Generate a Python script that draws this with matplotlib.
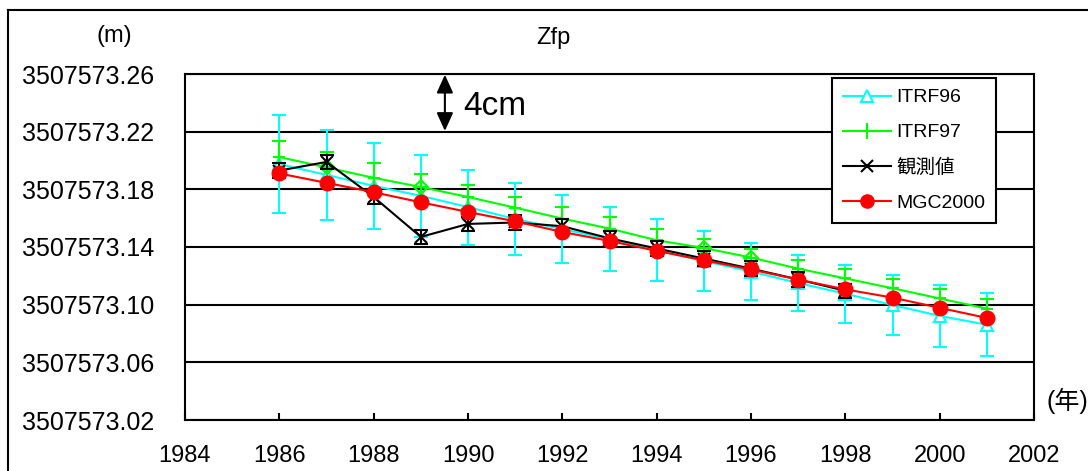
import matplotlib
matplotlib.use("Agg")
import matplotlib.pyplot as plt
from matplotlib.lines import Line2D
from matplotlib.ticker import FixedLocator, FormatStrFormatter

plt.rcParams['font.family'] = ['Liberation Sans', 'Noto Sans CJK JP', 'DejaVu Sans']

BASE = 3507573.0
years = list(range(1986, 2002))
years_obs = list(range(1986, 1999))

itrf96 = [0.1975, 0.190, 0.1824, 0.1755, 0.1677, 0.1594, 0.1524, 0.1455,
          0.1379, 0.1303, 0.1230, 0.1150, 0.1076, 0.0998, 0.0922, 0.0861]
itrf96_err = [0.034, 0.0315, 0.0297, 0.0286, 0.026, 0.025, 0.0234, 0.022,
              0.0214, 0.0208, 0.0199, 0.0193, 0.020, 0.021, 0.0215, 0.022]

itrf97 = [0.2024, 0.1952, 0.1880, 0.1816, 0.1747, 0.1673, 0.1597, 0.1528,
          0.1447, 0.1393, 0.1327, 0.1250, 0.1182, 0.1114, 0.1043, 0.0973]
itrf97_err = [0.011, 0.0105, 0.0102, 0.0088, 0.0086, 0.0074, 0.008, 0.008,
              0.0076, 0.006, 0.0058, 0.0062, 0.0062, 0.0062, 0.0064, 0.0065]

observed = [0.193, 0.199, 0.1747, 0.147, 0.156, 0.157, 0.1544, 0.146,
            0.139, 0.132, 0.125, 0.1175, 0.1096]
observed_err = [0.005] * len(observed)

mgc2000 = [0.191, 0.1845, 0.178, 0.171, 0.1643, 0.1578, 0.1504, 0.1442,
           0.1373, 0.1308, 0.1244, 0.1174, 0.1106, 0.1049, 0.0978, 0.0908]

diamond_idx = [1, 3, 9, 10]

yticks = [0.02, 0.06, 0.10, 0.14, 0.18, 0.22, 0.26]
xticks = list(range(1984, 2003, 2))

labels = ['ITRF96', 'ITRF97', '観測値', 'MGC2000']
CYAN, GREEN, BLACK, RED = '#00FFFF', '#00FF00', '#000000', '#FF0000'

def full(v):
    return [BASE + x for x in v]

fig = plt.figure(figsize=(10.88, 4.71), dpi=100)
ax = fig.add_axes([185/1088, 1-420/471, (1034-185)/1088, (420-74)/471])

ax.set_xlim(1984, 2002)
ax.set_ylim(BASE + 0.02, BASE + 0.26)

# gridlines
for t in yticks:
    ax.axhline(BASE + t, color='black', lw=1.5, zorder=1)

ek = dict(elinewidth=1.5, capthick=1.5, capsize=5)
ax.errorbar(years, full(itrf96), yerr=itrf96_err, color=CYAN, lw=1.5,
            marker='^', ms=8, mfc='white', mec=CYAN, mew=1.5, zorder=3, **ek)
ax.errorbar(years, full(itrf97), yerr=itrf97_err, color=GREEN, lw=1.5,
            marker='+', ms=9, mew=1.5, zorder=4, **ek)
ax.plot([years[i] for i in diamond_idx], [BASE + itrf97[i] for i in diamond_idx],
        ls='none', marker='D', ms=7, mfc='none', mec=GREEN, mew=1.5, zorder=4)
ax.errorbar(years_obs, full(observed), yerr=observed_err, color=BLACK, lw=1.5,
            marker='x', ms=8, mew=1.5, zorder=5, **ek)
ax.plot(years, full(mgc2000), color=RED, lw=1.5, marker='o', ms=10.5,
        mfc=RED, mec=RED, zorder=6)

ax.yaxis.set_major_locator(FixedLocator([BASE + t for t in yticks]))
ax.yaxis.set_major_formatter(FormatStrFormatter('%.2f'))
ax.xaxis.set_major_locator(FixedLocator(xticks))
ax.tick_params(axis='y', length=0, pad=22, labelsize=18)
ax.tick_params(axis='x', direction='in', length=5, width=1.5, pad=17.8, labelsize=17,
               top=False)
for s in ax.spines.values():
    s.set_linewidth(1.5)
    s.set_color('black')

# 4cm scale arrow
ax.annotate('', xy=(1989.51, BASE + 0.2595), xytext=(1989.51, BASE + 0.2205),
            arrowprops=dict(arrowstyle='<|-|>,head_width=0.5,head_length=1.1',
                            color='black', lw=1.5, shrinkA=0, shrinkB=0), zorder=7)
ax.text(1989.9, BASE + 0.2375, '4cm', fontsize=24, va='center', ha='left')

handles = [
    Line2D([], [], color=CYAN, lw=1.5, marker='^', ms=8, mfc='white', mec=CYAN, mew=1.5),
    Line2D([], [], color=GREEN, lw=1.5, marker='|', ms=12, mew=1.5),
    Line2D([], [], color=BLACK, lw=1.5, marker='x', ms=9, mew=1.5),
    Line2D([], [], color=RED, lw=1.5, marker='o', ms=9.5, mfc=RED, mec=RED),
]
leg = ax.legend(handles, labels, loc='upper left',
                bbox_to_anchor=((832-185)/849, (420-78)/346),
                borderaxespad=0, fontsize=14, frameon=True, fancybox=False,
                edgecolor='black', framealpha=1, handlelength=2.5,
                handletextpad=0.25, labelspacing=0.9, borderpad=0.55)
leg.get_frame().set_linewidth(1.5)
leg.set_zorder(10)

fig.text(114/1088, 1-36/471, '(m)', fontsize=17, ha='center', va='center')
fig.text(553/1088, 1-38/471, 'Zfp', fontsize=17, ha='center', va='center')
fig.text(1047/1088, 1-401/471, '(年)', fontsize=18, ha='left', va='center')

# outer frame
fig.add_artist(Line2D([8/1088, 8/1088], [-0.1, 1-10/471], color='black', lw=1.5,
                      transform=fig.transFigure))
fig.add_artist(Line2D([8/1088, 1.1], [1-10/471, 1-10/471], color='black', lw=1.5,
                      transform=fig.transFigure))

fig.savefig('out.png', dpi=100)
